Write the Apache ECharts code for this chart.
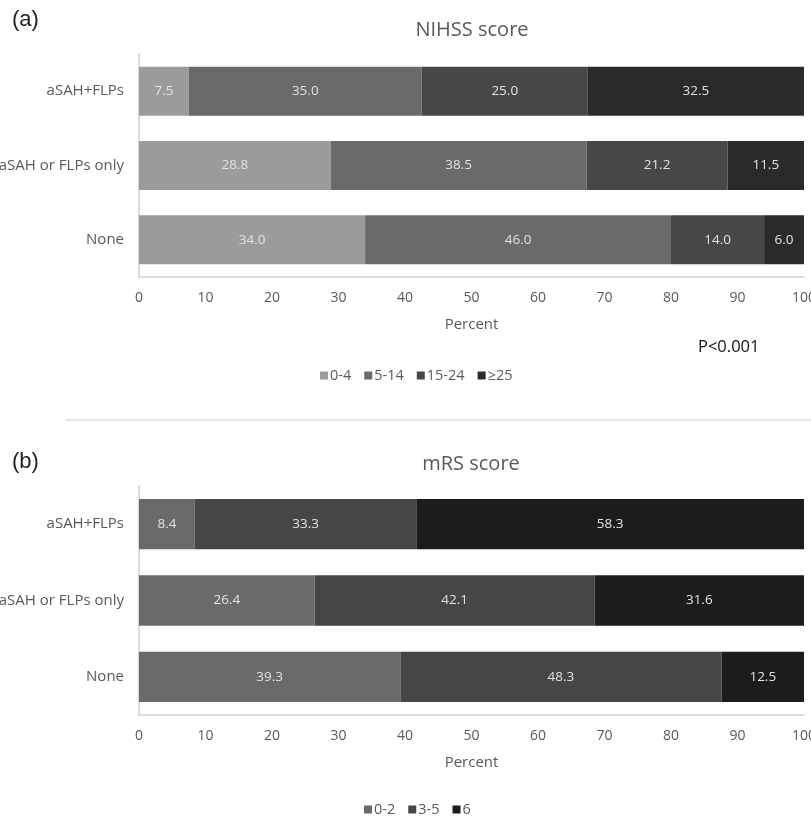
<!DOCTYPE html>
<html>
<head>
<meta charset="utf-8">
<script src="https://cdn.jsdelivr.net/npm/echarts@6/dist/echarts.min.js"></script>
<style>
  html, body { margin: 0; padding: 0; background: #fff; overflow: hidden; }
  #chart { width: 811px; height: 816px; }
</style>
</head>
<body>
<div id="chart"></div>
<script>
// Groups shown on both panels (top to bottom)
const groups = ['aSAH+FLPs', 'aSAH or FLPs only', 'None'];

// Percent ticks
const tickMin = 0, tickMax = 100, tickStep = 10;

// Panel (a): NIHSS score bands
const nihssBands = ['0-4', '5-14', '15-24', '≥25'];
const nihss_0_4   = [7.5, 28.8, 34.0];
const nihss_5_14  = [35.0, 38.5, 46.0];
const nihss_15_24 = [25.0, 21.2, 14.0];
const nihss_ge25  = [32.5, 11.5, 6.0];

// Panel (b): mRS score bands
const mrsBands = ['0-2', '3-5', '6'];
const mrs_0_2 = [8.4, 26.4, 39.3];
const mrs_3_5 = [33.3, 42.1, 48.3];
const mrs_6   = [58.3, 31.6, 12.5];

const FONT = '"Open Sans", Lato, sans-serif';
const TXT = '#595959';

const nihssColors = ['#9b9b9b', '#6a6a6a', '#474747', '#2a2a2a'];
const mrsColors = ['#6a6a6a', '#464646', '#1c1c1c'];

function barSeries(name, values, color, gridIdx) {
  return {
    type: 'bar',
    name: name,
    stack: 'p' + gridIdx,
    xAxisIndex: gridIdx,
    yAxisIndex: gridIdx,
    barWidth: '66%',
    data: values,
    itemStyle: { color: color },
    label: {
      show: true,
      position: 'inside',
      color: '#e2e2e2',
      fontFamily: FONT,
      fontSize: 13.5,
      formatter: p => p.value.toFixed(1)
    },
    emphasis: { disabled: true }
  };
}

function valueAxis(gridIdx) {
  return {
    type: 'value',
    gridIndex: gridIdx,
    min: tickMin,
    max: tickMax,
    interval: tickStep,
    name: 'Percent',
    nameLocation: 'middle',
    nameGap: 40,
    nameTextStyle: { color: TXT, fontFamily: FONT, fontSize: 15 },
    axisLine: { show: true, lineStyle: { color: '#cfcfcf', width: 1.5 } },
    axisTick: { show: false },
    splitLine: { show: false },
    axisLabel: { color: TXT, fontFamily: FONT, fontSize: 14, margin: 14 }
  };
}

function categoryAxis(gridIdx) {
  return {
    type: 'category',
    gridIndex: gridIdx,
    data: groups,
    inverse: true,
    axisLine: { show: true, lineStyle: { color: '#cfcfcf', width: 1.5 } },
    axisTick: { show: false },
    axisLabel: { color: TXT, fontFamily: FONT, fontSize: 15, margin: 15 }
  };
}

const legendText = { color: TXT, fontFamily: FONT, fontSize: 14.5, padding: [0, 0, 0, -3] };

const chart = echarts.init(document.getElementById('chart'), null, { width: 811, height: 816 });

chart.setOption({
  animation: false,
  backgroundColor: '#ffffff',
  title: [
    { text: 'NIHSS score', left: 467, top: 15, textAlign: 'center',
      textStyle: { color: TXT, fontFamily: FONT, fontSize: 20, fontWeight: 'normal' } },
    { text: 'mRS score', left: 466, top: 449, textAlign: 'center',
      textStyle: { color: TXT, fontFamily: FONT, fontSize: 20, fontWeight: 'normal' } }
  ],
  // labels may run past the canvas edge, so the plot keeps its own size
  grid: [
    { left: 139, width: 665, top: 54, height: 223, outerBoundsMode: 'none', containLabel: false },
    { left: 139, width: 665, top: 486, height: 229, outerBoundsMode: 'none', containLabel: false }
  ],
  xAxis: [valueAxis(0), valueAxis(1)],
  yAxis: [categoryAxis(0), categoryAxis(1)],
  legend: [
    {
      data: nihssBands,
      left: 315, top: 363,
      itemWidth: 8, itemHeight: 8, itemGap: 13,
      icon: 'rect',
      textStyle: legendText,
      selectedMode: false
    },
    {
      data: mrsBands,
      left: 359, top: 797,
      itemWidth: 8, itemHeight: 8, itemGap: 13,
      icon: 'rect',
      padding: [5, 5, 2, 5],
      textStyle: legendText,
      selectedMode: false
    }
  ],
  series: [
    barSeries(nihssBands[0], nihss_0_4, nihssColors[0], 0),
    barSeries(nihssBands[1], nihss_5_14, nihssColors[1], 0),
    barSeries(nihssBands[2], nihss_15_24, nihssColors[2], 0),
    barSeries(nihssBands[3], nihss_ge25, nihssColors[3], 0),
    barSeries(mrsBands[0], mrs_0_2, mrsColors[0], 1),
    barSeries(mrsBands[1], mrs_3_5, mrsColors[1], 1),
    barSeries(mrsBands[2], mrs_6, mrsColors[2], 1)
  ],
  graphic: [
    { type: 'text', left: 12, top: 9,
      style: { text: '(a)', fill: '#222', font: '22px "Liberation Sans", Arial, sans-serif' } },
    { type: 'text', left: 12, top: 451,
      style: { text: '(b)', fill: '#222', font: '22px "Liberation Sans", Arial, sans-serif' } },
    { type: 'text', left: 698, top: 339,
      style: { text: 'P<0.001', fill: '#111', font: '16.5px ' + FONT } },
    { type: 'line', shape: { x1: 65, y1: 420, x2: 811, y2: 420 },
      style: { stroke: '#dedede', lineWidth: 1.5 } }
  ]
});
</script>
</body>
</html>
